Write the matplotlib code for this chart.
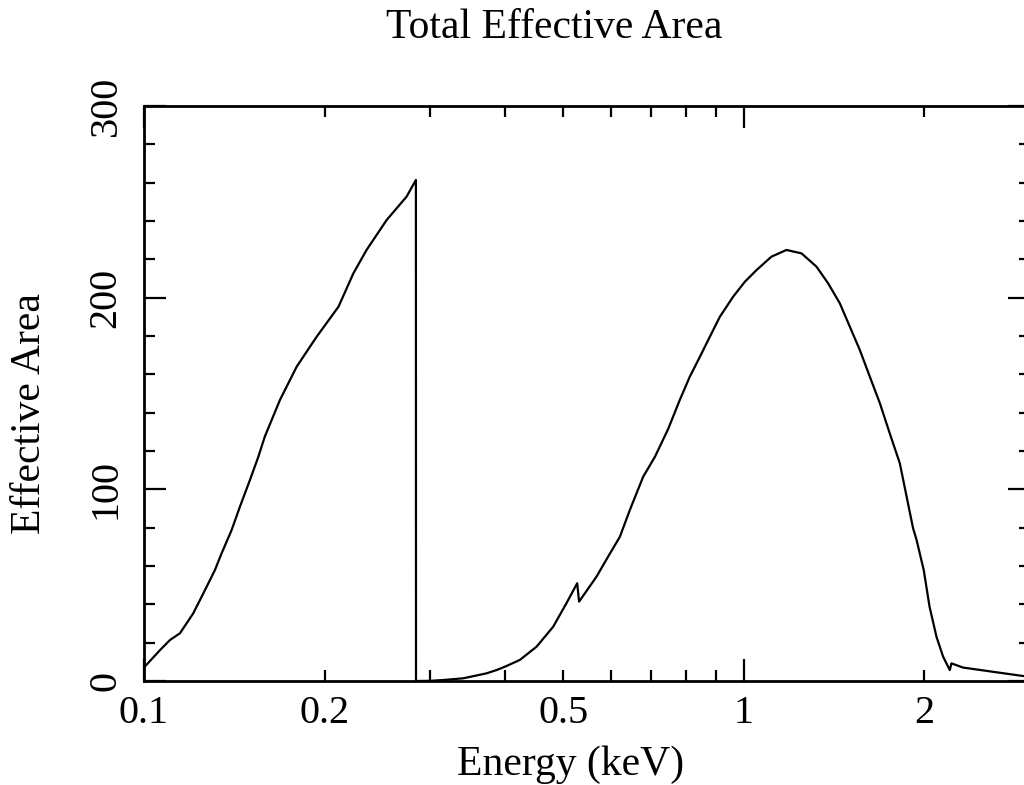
import matplotlib
matplotlib.use('Agg')
import matplotlib.pyplot as plt
from matplotlib.ticker import FixedLocator, FixedFormatter

plt.rcParams['font.family'] = ['Liberation Serif', 'DejaVu Serif']

# energia (keV) y area efectiva
energy = [0.1005, 0.1064, 0.1105, 0.1148, 0.1208, 0.124, 0.1272, 0.1313, 0.1347,
          0.140, 0.1445, 0.1502, 0.1551, 0.159, 0.1685, 0.1797, 0.194, 0.211,
          0.2234, 0.235, 0.2538, 0.274, 0.284, 0.2841, 0.30, 0.315, 0.3405,
          0.3725, 0.387, 0.40, 0.4233, 0.4513, 0.481, 0.506, 0.5275, 0.5313,
          0.568, 0.594, 0.6215, 0.6456, 0.6796, 0.711, 0.748, 0.782, 0.8128,
          0.845, 0.8777, 0.912, 0.9598, 1.004, 1.05, 1.112, 1.178, 1.248,
          1.3216, 1.382, 1.4454, 1.561, 1.622, 1.686, 1.751, 1.82, 1.915,
          1.941, 1.995, 2.04, 2.095, 2.149, 2.205, 2.219, 2.321, 2.922, 3.0]
area = [7.8, 16.2, 21.4, 24.9, 35.3, 42.3, 49.2, 57.9, 66.6,
        78.8, 90.9, 104.9, 117.0, 127.5, 146.6, 164.0, 179.6, 195.3,
        212.7, 224.9, 240.5, 252.7, 261.4, 0.0, 0.1, 0.5, 1.4,
        4.0, 5.7, 7.5, 11.0, 17.9, 28.3, 40.5, 51.0, 41.4,
        54.4, 64.9, 75.3, 89.2, 106.6, 117.0, 131.5, 146.6, 158.8,
        169.2, 179.6, 190.0, 200.5, 208.3, 214.4, 221.4, 224.9, 223.1,
        216.2, 207.5, 197.1, 172.7, 158.8, 144.9, 129.2, 113.6, 79.7,
        73.6, 57.9, 38.8, 23.1, 12.7, 5.7, 9.2, 7.0, 2.6, 2.4]

x_major = [0.1, 1]
x_major_labels = ['0.1', '1']
x_minor = [0.2, 0.3, 0.4, 0.5, 0.6, 0.7, 0.8, 0.9, 2, 3]
x_minor_labels = ['0.2', '', '', '0.5', '', '', '', '', '2', '']

fig = plt.figure(figsize=(10.24, 7.85), dpi=100)
ax = fig.add_axes([144 / 1024, 104 / 785, 886 / 1024, 575 / 785])

ax.plot(energy, area, color='black', lw=1.6)

ax.set_xscale('log')
ax.set_xlim(0.1, 3.0)
ax.set_ylim(0, 300)

ax.xaxis.set_major_locator(FixedLocator(x_major))
ax.xaxis.set_major_formatter(FixedFormatter(x_major_labels))
ax.xaxis.set_minor_locator(FixedLocator(x_minor))
ax.xaxis.set_minor_formatter(FixedFormatter(x_minor_labels))
ax.set_yticks([0, 100, 200, 300])
ax.set_yticks(range(0, 301, 20), minor=True)

for sp in ax.spines.values():
    sp.set_linewidth(2.0)

ax.tick_params(which='both', direction='in', top=True, right=True, width=1.6,
               labelsize=29, color='black')
ax.tick_params(which='major', length=16)
ax.tick_params(which='minor', length=8)
ax.tick_params(axis='x', which='both', pad=10)
ax.tick_params(axis='y', which='both', pad=14, labelrotation=90)
for lab in ax.get_yticklabels():
    lab.set_va('center')

ax.set_xlabel('Energy (keV)', fontsize=30)
ax.set_ylabel('Effective Area', fontsize=30)
ax.xaxis.set_label_coords((571 - 144) / 886, -(765 - 681) / 575)
ax.yaxis.set_label_coords((30 - 144) / 886, (681 - 414) / 575)
ax.xaxis.label.set_va('center')
ax.yaxis.label.set_va('center')

fig.text(554.5 / 1024, 1 - 28 / 785, 'Total Effective Area', fontsize=30,
         ha='center', va='center')

fig.savefig('out.png', dpi=100)
